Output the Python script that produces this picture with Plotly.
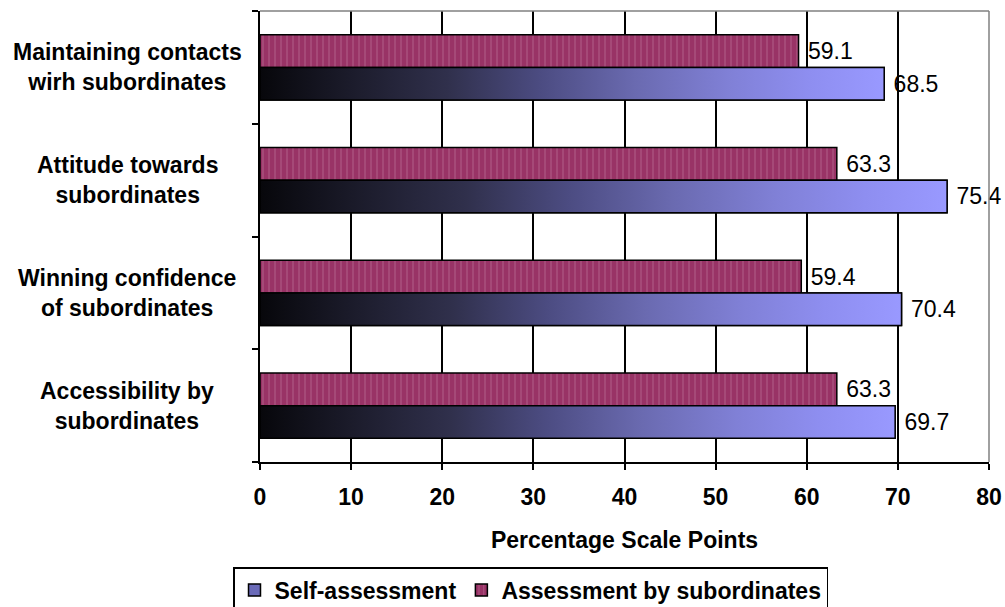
import plotly.graph_objects as go

# Categories listed bottom to top on the vertical axis
categories = [
    "Accessibility by<br>subordinates",
    "Winning confidence<br>of subordinates",
    "Attitude towards<br>subordinates",
    "Maintaining contacts<br>wirh subordinates",
]
self_assessment = [69.7, 70.4, 75.4, 68.5]
by_subordinates = [63.3, 59.4, 63.3, 59.1]
x_ticks = [0, 10, 20, 30, 40, 50, 60, 70, 80]

FONT = "Liberation Sans, Arial, sans-serif"
SIZE = 23
BAR_W = 0.29
positions = list(range(len(categories)))

# colour ramp used along each self-assessment bar
ramp = [
    [0.00, "#07070b"], [0.15, "#1c1c2c"], [0.30, "#30304c"],
    [0.45, "#4c4c82"], [0.60, "#6a6ab0"], [0.75, "#8080d6"],
    [0.88, "#8e8ef0"], [1.00, "#9999ff"],
]

fig = go.Figure()

# Self-assessment bars (outline, labels and legend entry)
fig.add_trace(go.Bar(
    name="Self-assessment",
    orientation="h",
    x=self_assessment,
    y=positions,
    width=BAR_W,
    offset=-BAR_W,
    marker=dict(color="#6a6ab8", line=dict(color="black", width=1.5)),
    text=self_assessment,
    texttemplate="\u00a0%{x:.1f}",
    textposition="outside",
    textfont=dict(family=FONT, size=SIZE, color="black"),
    constraintext="none",
    cliponaxis=False,
))

# Assessment by subordinates bars with dotted fill
fig.add_trace(go.Bar(
    name="Assessment by subordinates",
    orientation="h",
    x=by_subordinates,
    y=positions,
    width=BAR_W,
    offset=0,
    marker=dict(
        color="#993366",
        line=dict(color="black", width=1.5),
        pattern=dict(shape="|", fgcolor="#dfaac5", size=6, solidity=0.12),
    ),
    text=by_subordinates,
    texttemplate="\u00a0%{x:.1f}",
    textposition="outside",
    textfont=dict(family=FONT, size=SIZE, color="black"),
    constraintext="none",
    cliponaxis=False,
))

# Gradient fill laid over each self-assessment bar
for pos, val in zip(positions, self_assessment):
    y0, y1 = pos - BAR_W, pos
    fig.add_trace(go.Scatter(
        x=[0, val, val, 0, 0],
        y=[y0, y0, y1, y1, y0],
        mode="lines",
        fill="toself",
        fillgradient=dict(type="horizontal", colorscale=ramp, start=0, stop=val),
        line=dict(color="black", width=1.5),
        showlegend=False,
        hoverinfo="skip",
    ))

# Centered category labels to the left of the plot
for pos, label in zip(positions, categories):
    fig.add_annotation(
        x=-0.1824, xref="paper", y=pos, yref="y",
        text=label, showarrow=False, xanchor="center", yanchor="middle",
        align="center",
        font=dict(family=FONT, size=SIZE, color="black", weight="bold"),
    )

# Top and right frame of the plot area
fig.add_shape(type="line", xref="paper", yref="paper", x0=0, x1=1, y0=1, y1=1,
              line=dict(color="#808080", width=1.5), layer="above")
fig.add_shape(type="line", xref="paper", yref="paper", x0=1, x1=1, y0=0, y1=1,
              line=dict(color="#808080", width=1.5), layer="above")

fig.update_layout(
    width=1005, height=607,
    margin=dict(l=260, r=16, t=11, b=145, autoexpand=False),
    paper_bgcolor="white", plot_bgcolor="white",
    barmode="overlay",
    font=dict(family=FONT, color="black"),
    showlegend=True,
    legend=dict(
        orientation="h",
        xref="container", yref="container",
        x=233 / 1005, xanchor="left",
        y=1 - 567 / 607, yanchor="top",
        bordercolor="black", borderwidth=1.5,
        font=dict(family=FONT, size=SIZE, color="black", weight="bold"),
        itemwidth=30,
        traceorder="normal",
    ),
    xaxis=dict(
        range=[0, 80], tickvals=x_ticks,
        ticks="outside", ticklen=6, tickwidth=1.5, tickcolor="black",
        ticklabelstandoff=8,
        showline=True, linecolor="black", linewidth=1.5,
        showgrid=True, gridcolor="black", gridwidth=1.5,
        zeroline=False, automargin=False,
        tickfont=dict(family=FONT, size=SIZE, color="black", weight="bold"),
        title=dict(text="Percentage Scale Points", standoff=23,
                   font=dict(family=FONT, size=SIZE, color="black", weight="bold")),
    ),
    yaxis=dict(
        range=[-0.5, 3.5],
        tickvals=[-0.5, 0.5, 1.5, 2.5, 3.5],
        showticklabels=False,
        ticks="outside", ticklen=6, tickwidth=1.5, tickcolor="black",
        showline=True, linecolor="black", linewidth=1.5,
        showgrid=False, zeroline=False, automargin=False,
    ),
)

fig.write_html("out.html")
